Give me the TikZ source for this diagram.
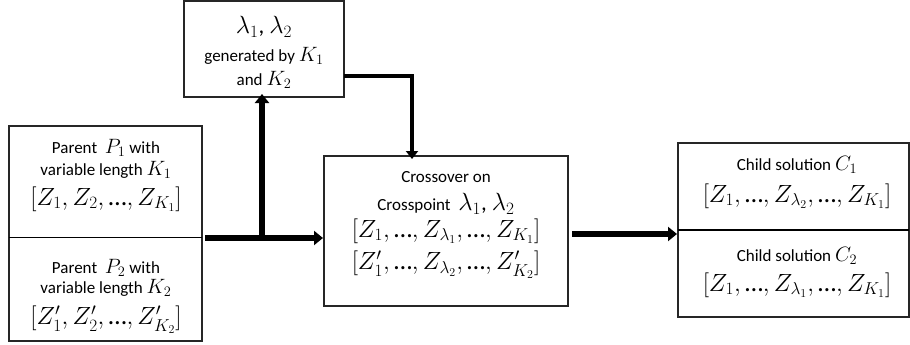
\documentclass[tikz,border=0pt]{standalone}
\usepackage{fontspec}
\setmainfont{Carlito}
\usetikzlibrary{arrows.meta}
\tikzset{
  box/.style={draw=black!85, line width=1.2pt},
  txt/.style={inner sep=0pt, anchor=center, font=\fontsize{17}{19}\selectfont},
  mth/.style={inner sep=0pt, anchor=center, font=\fontsize{26}{28}\selectfont},
  bigarrow/.style={line width=6pt, -{Triangle[length=9pt,width=14pt]}},
  thinarrow/.style={line width=4.5pt, -{Triangle[length=8pt,width=12pt]}},
}
\newcommand{\bm}[1]{{\fontsize{20}{22}\selectfont$#1$}}
\newcommand{\el}{\mbox{…}}
\begin{document}
\begin{tikzpicture}[x=1pt,y=-1pt]
\useasboundingbox (0,0) rectangle (910,345);
% boxes
\draw[box] (184,1) rectangle (344,97);
\draw[box] (9,126) rectangle (202,341);
\draw[line width=1pt] (9,237) -- (202,237);
\draw[box] (324,156) rectangle (568,306);
\draw[box] (678,143) rectangle (909,317);
\draw[line width=2pt] (678,230) -- (909,230);
% named anchors
\coordinate (topbox) at (264,97);
\coordinate (topR) at (344,76);
\coordinate (leftR) at (202,238);
\coordinate (cenL) at (324,238);
\coordinate (cenT) at (412,156);
\coordinate (cenR) at (568,234);
\coordinate (childL) at (678,234);
% top box text
\node[mth, font=\fontsize{23}{25}\selectfont] (lam) at (264,27) {$\lambda_1$, $\lambda_2$};
\node[txt] (gen) at (264,56) {generated by \bm{K_1}};
\node[txt] (and) at (264,80) {and \bm{K_2}};
% parent 1
\node[txt] (p1a) at (106,148) {Parent \ \bm{P_1} with};
\node[txt] (p1b) at (106,170) {variable length \bm{K_1}};
\node[mth] (p1c) at (106,199) {$[Z_1, Z_2, \el, Z_{K_1}]$};
% parent 2
\node[txt] (p2a) at (106,268) {Parent \ \bm{P_2} with};
\node[txt] (p2b) at (106,288) {variable length \bm{K_2}};
\node[mth] (p2c) at (106,320) {$[Z'_1, Z'_2, \el, Z'_{K_2}]$};
% center
\node[txt] (c1) at (446,177) {Crossover on};
\node[txt] (c2) at (446,204) {Crosspoint \ {\fontsize{23}{25}\selectfont$\lambda_1$, $\lambda_2$}};
\node[mth] (c3) at (446,231) {$[Z_1, \el, Z_{\lambda_1}, \el, Z_{K_1}]$};
\node[mth] (c4) at (446,265) {$[Z'_1, \el, Z_{\lambda_2}, \el, Z'_{K_2}]$};
% child
\node[txt] (d1) at (797,165) {Child solution \bm{C_1}};
\node[mth] (d2) at (797,196) {$[Z_1, \el, Z_{\lambda_2}, \el, Z_{K_1}]$};
\node[txt] (d3) at (797,256) {Child solution \bm{C_2}};
\node[mth] (d4) at (797,285) {$[Z_1, \el, Z_{\lambda_1}, \el, Z_{K_1}]$};
% arrows
\draw[bigarrow] ([xshift=3pt]leftR) -- ([xshift=-1pt]cenL);
\draw[bigarrow] (262,235) -- ([yshift=3pt]topbox -| 262,0);
\draw[thinarrow] (topR) -| ([yshift=-3pt]cenT);
\draw[bigarrow] ([xshift=4pt]cenR) -- ([xshift=-1pt]childL);
\end{tikzpicture}
\end{document}
